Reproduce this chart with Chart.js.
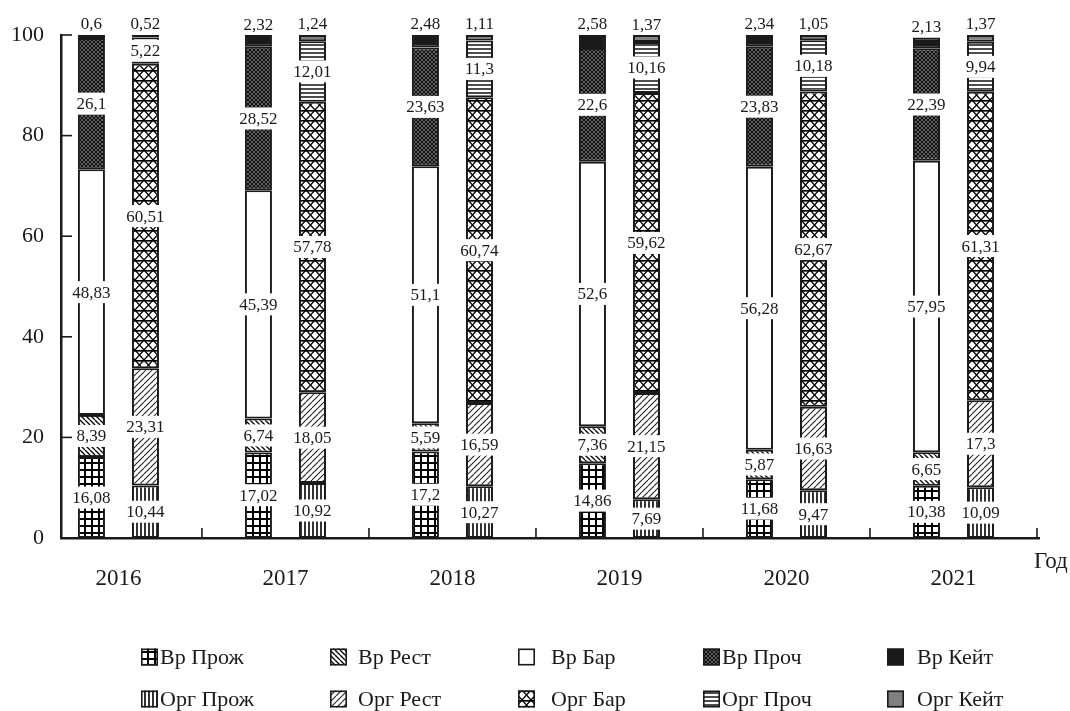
<!DOCTYPE html>
<html>
<head>
<meta charset="utf-8">
<script src="https://cdn.jsdelivr.net/npm/chart.js@4/dist/chart.umd.min.js"></script>
<style>
html,body{margin:0;padding:0;background:#fff;}
#wrap{width:1070px;height:711px;position:relative;}
</style>
</head>
<body>
<div id="wrap"><canvas id="c"></canvas></div>
<script>
// ---- data ----
const years = ['2016', '2017', '2018', '2019', '2020', '2021'];
const vrProzh  = [16.08, 17.02, 17.2, 14.86, 11.68, 10.38];
const vrRest   = [8.39, 6.74, 5.59, 7.36, 5.87, 6.65];
const vrBar    = [48.83, 45.39, 51.1, 52.6, 56.28, 57.95];
const vrProch  = [26.1, 28.52, 23.63, 22.6, 23.83, 22.39];
const vrKeit   = [0.6, 2.32, 2.48, 2.58, 2.34, 2.13];
const orgProzh = [10.44, 10.92, 10.27, 7.69, 9.47, 10.09];
const orgRest  = [23.31, 18.05, 16.59, 21.15, 16.63, 17.3];
const orgBar   = [60.51, 57.78, 60.74, 59.62, 62.67, 61.31];
const orgProch = [5.22, 12.01, 11.3, 10.16, 10.18, 9.94];
const orgKeit  = [0.52, 1.24, 1.11, 1.37, 1.05, 1.37];
const yTicks = [0, 20, 40, 60, 80, 100];
const axisTitle = 'Год';

// ---- patterns ----
function makePattern(w, h, draw, bg) {
  const c = document.createElement('canvas');
  c.width = w; c.height = h;
  const g = c.getContext('2d');
  g.fillStyle = bg || '#fff';
  g.fillRect(0, 0, w, h);
  g.strokeStyle = '#000';
  draw(g, w, h);
  return document.createElement('canvas').getContext('2d').createPattern(c, 'repeat');
}
const pGrid = makePattern(7, 7, (g, w, h) => {
  g.lineWidth = 2;
  g.beginPath(); g.moveTo(1, 0); g.lineTo(1, h); g.moveTo(0, 1); g.lineTo(w, 1); g.stroke();
});
const pBack = makePattern(5, 5, (g, s) => {
  g.lineWidth = 1.3; g.beginPath();
  for (const k of [-s, 0, s]) { g.moveTo(k, 0); g.lineTo(k + s, s); }
  g.stroke();
});
const pFwd = makePattern(6, 6, (g, s) => {
  g.lineWidth = 1.1; g.strokeStyle = '#222'; g.beginPath();
  for (const k of [-s, 0, s]) { g.moveTo(k, s); g.lineTo(k + s, 0); }
  g.stroke();
});
const pCross = makePattern(4, 4, (g, s) => {
  g.lineWidth = 1.6; g.strokeStyle = '#111'; g.beginPath();
  for (const k of [-s, 0, s]) { g.moveTo(k, 0); g.lineTo(k + s, s); g.moveTo(k, s); g.lineTo(k + s, 0); }
  g.stroke();
});
const pVert = makePattern(4, 4, (g, w, h) => {
  g.lineWidth = 1.6; g.beginPath(); g.moveTo(1, 0); g.lineTo(1, h); g.stroke();
});
const pHorz = makePattern(4, 4, (g, w, h) => {
  g.lineWidth = 1.4; g.beginPath(); g.moveTo(0, 1); g.lineTo(w, 1); g.stroke();
});
const pTri = makePattern(9, 10, (g, w, h) => {
  g.lineWidth = 1.3; g.beginPath();
  g.moveTo(0, 0); g.lineTo(w, h); g.moveTo(w, 0); g.lineTo(0, h);
  g.stroke();
  g.lineWidth = 1.7; g.beginPath(); g.moveTo(0, 0.8); g.lineTo(w, 0.8); g.stroke();
});

function pts(arr) { return arr.map((v, i) => ({ x: i, y: v })); }
function ds(label, arr, fill, stack) {
  return {
    label, data: pts(arr), backgroundColor: fill, stack,
    borderColor: '#1a1a1a', borderWidth: 2, borderSkipped: false,
    categoryPercentage: 0.647, barPercentage: 0.5
  };
}
const datasets = [
  ds('Вр Прож', vrProzh, pGrid, 'vr'),
  ds('Вр Рест', vrRest, pBack, 'vr'),
  ds('Вр Бар', vrBar, '#ffffff', 'vr'),
  ds('Вр Проч', vrProch, pCross, 'vr'),
  ds('Вр Кейт', vrKeit, '#1a1a1a', 'vr'),
  ds('Орг Прож', orgProzh, pVert, 'org'),
  ds('Орг Рест', orgRest, pFwd, 'org'),
  ds('Орг Бар', orgBar, pTri, 'org'),
  ds('Орг Проч', orgProch, pHorz, 'org'),
  ds('Орг Кейт', orgKeit, '#808080', 'org')
];
const topSeries = ['Вр Кейт', 'Орг Кейт'];

const SERIF = '"Liberation Serif", "DejaVu Serif", serif';

// labels plugin
const labelPlugin = {
  id: 'segLabels',
  afterDatasetsDraw(chart) {
    const ctx = chart.ctx;
    ctx.save();
    ctx.font = '17px ' + SERIF;
    ctx.textAlign = 'center';
    ctx.textBaseline = 'middle';
    chart.data.datasets.forEach((d, di) => {
      const meta = chart.getDatasetMeta(di);
      meta.data.forEach((bar, i) => {
        const p = bar.getProps(['x', 'y', 'base'], true);
        const v = d.data[i].y;
        const txt = String(v).replace('.', ',');
        let cy = topSeries.includes(d.label) ? Math.min(p.y, p.base) - 11 : (p.y + p.base) / 2;
        const w = ctx.measureText(txt).width;
        if (!topSeries.includes(d.label)) {
          ctx.fillStyle = '#fff';
          ctx.fillRect(p.x - w / 2 - 2, cy - 11, w + 4, 22);
        }
        ctx.fillStyle = '#1a1a1a';
        ctx.fillText(txt, p.x, cy + 1);
      });
    });
    ctx.restore();
  }
};

// axes decorations + legend
const decoPlugin = {
  id: 'deco',
  afterDraw(chart) {
    const ctx = chart.ctx;
    const xs = chart.scales.x, ys = chart.scales.y;
    const a = chart.chartArea;
    ctx.save();
    ctx.strokeStyle = '#1a1a1a';
    ctx.lineWidth = 1.6;
    // y tick marks (inside)
    yTicks.forEach(t => {
      const y = ys.getPixelForValue(t);
      ctx.beginPath(); ctx.moveTo(a.left, y); ctx.lineTo(a.left + 11, y); ctx.stroke();
    });
    // x tick marks between categories (inside)
    years.forEach((_, i) => {
      const x = xs.getPixelForValue(i + 0.5);
      if (x <= a.right) {
        ctx.beginPath(); ctx.moveTo(x, a.bottom); ctx.lineTo(x, a.bottom - 10); ctx.stroke();
      }
    });
    // axis title
    ctx.fillStyle = '#1a1a1a';
    ctx.font = '23px ' + SERIF;
    ctx.textAlign = 'left';
    ctx.textBaseline = 'middle';
    ctx.fillText(axisTitle, a.right - 5, a.bottom + 24);
    // legend
    const cols = [141, 330, 518, 703, 887];
    const gaps = [2, 11, 16, 2, 13];
    const rows = [657, 699];
    ctx.font = '22px ' + SERIF;
    chart.data.datasets.forEach((d, di) => {
      const r = Math.floor(di / 5), c = di % 5;
      const x = cols[c], y = rows[r];
      const s = 17;
      ctx.fillStyle = d.backgroundColor;
      ctx.fillRect(x, y - s / 2, s, s);
      ctx.lineWidth = 1.6;
      ctx.strokeStyle = '#1a1a1a';
      ctx.strokeRect(x + 0.8, y - s / 2 + 0.8, s - 1.6, s - 1.6);
      ctx.fillStyle = '#1a1a1a';
      ctx.fillText(d.label, x + s + gaps[c], y + 1);
    });
    ctx.restore();
  }
};

new Chart(document.getElementById('c'), {
  type: 'bar',
  data: { datasets },
  plugins: [labelPlugin, decoPlugin],
  options: {
    responsive: true,
    maintainAspectRatio: false,
    animation: false,
    layout: { padding: { top: 35, right: 31, bottom: 0, left: 0 } },
    plugins: { legend: { display: false }, tooltip: { enabled: false } },
    scales: {
      x: {
        type: 'linear',
        offset: false,
        min: -0.344, max: 5.512,
        stacked: true,
        grid: { display: false, drawTicks: false, offset: false },
        border: { display: true, color: '#1a1a1a', width: 2.5 },
        afterBuildTicks: s => { s.ticks = years.map((_, i) => ({ value: i })); },
        afterFit: s => { s.height = 173; },
        ticks: {
          autoSkip: false, maxRotation: 0, padding: 27,
          color: '#1a1a1a',
          font: { family: SERIF, size: 23 },
          callback: v => years[v] !== undefined ? years[v] : ''
        }
      },
      y: {
        stacked: true,
        min: 0, max: 100,
        grid: { display: false, drawTicks: false },
        border: { display: true, color: '#1a1a1a', width: 2.5 },
        afterBuildTicks: s => { s.ticks = yTicks.map(v => ({ value: v })); },
        afterFit: s => { s.width = 61; },
        ticks: {
          padding: 17, color: '#1a1a1a',
          font: { family: SERIF, size: 22 }
        }
      }
    }
  }
});
</script>
</body>
</html>
